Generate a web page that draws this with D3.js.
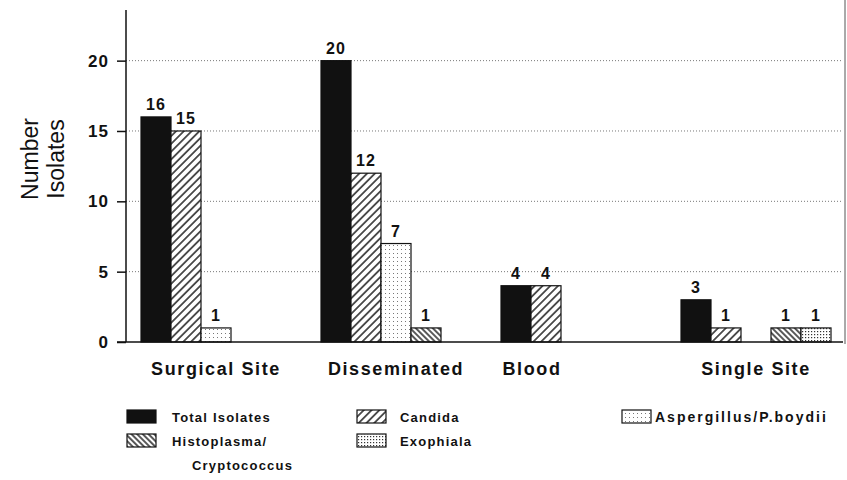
<!DOCTYPE html>
<html>
<head>
<meta charset="utf-8">
<script src="https://cdn.jsdelivr.net/npm/d3@7"></script>
<style>
  body { margin: 0; background: #fff; }
  svg { font-family: "Liberation Sans", Arial, Helvetica, sans-serif; }
</style>
</head>
<body>
<svg id="chart" width="847" height="480"></svg>
<script>
/* data */
var categories = ["Surgical Site", "Disseminated", "Blood", "Single Site"];
var seriesNames = ["Total Isolates", "Candida", "Aspergillus/P.boydii", "Histoplasma/Cryptococcus", "Exophiala"];
var totalIsolates = [16, 20, 4, 3];
var candida = [15, 12, 4, 1];
var aspergillus = [1, 7, 0, 0];
var histoplasma = [0, 1, 0, 1];
var exophiala = [0, 0, 0, 1];
var yTicks = [0, 5, 10, 15, 20];
var yLegend = ["Number", "Isolates"];

var seriesValues = [totalIsolates, candida, aspergillus, histoplasma, exophiala];

/* settings */
var width = 847,
    height = 480,
    axisX = 126,
    baseY = 342,
    topY = 10,
    yMax = 23.6,
    rightX = 843;

var svg = d3.select("#chart");

/* patterns */
var defs = svg.append("defs");

function hatch(id, size, angle) {
  var p = defs.append("pattern")
      .attr("id", id)
      .attr("patternUnits", "userSpaceOnUse")
      .attr("width", size)
      .attr("height", size)
      .attr("patternTransform", "rotate(" + angle + ")");
  p.append("rect").attr("width", size).attr("height", size).attr("fill", "#fff");
  p.append("line")
      .attr("x1", size / 2).attr("y1", 0)
      .attr("x2", size / 2).attr("y2", size)
      .attr("stroke", "#111")
      .attr("stroke-width", 1.4);
}
function dots(id, size, r, col) {
  var p = defs.append("pattern")
      .attr("id", id)
      .attr("patternUnits", "userSpaceOnUse")
      .attr("width", size)
      .attr("height", size);
  p.append("rect").attr("width", size).attr("height", size).attr("fill", "#fff");
  p.append("rect").attr("x", 1).attr("y", 1).attr("width", r).attr("height", r).attr("fill", col);
}
hatch("p-candida", 5.5, 45);
hatch("p-histo", 4, -45);
dots("p-asper", 4, 1, "#777");
dots("p-exo", 3, 1.2, "#333");

var fills = ["#111", "url(#p-candida)", "url(#p-asper)", "url(#p-histo)", "url(#p-exo)"];

/* scales */
var yScale = d3.scaleLinear().domain([0, yMax]).range([baseY, topY]);

var xScale = d3.scaleBand()
    .domain(categories)
    .range([141, 831])
    .paddingInner(1 / 6)
    .paddingOuter(0);

var xInner = d3.scaleBand()
    .domain(d3.range(seriesNames.length))
    .range([0, xScale.bandwidth()]);

/* grid lines */
svg.append("g")
  .selectAll("line")
  .data(yTicks.filter(function(d) { return d > 0; }))
  .join("line")
    .attr("x1", axisX)
    .attr("x2", rightX)
    .attr("y1", function(d) { return yScale(d); })
    .attr("y2", function(d) { return yScale(d); })
    .attr("stroke", "#777")
    .attr("stroke-width", 1)
    .attr("stroke-dasharray", "1,2");

/* y axis */
var yAxis = d3.axisLeft(yScale)
    .tickValues(yTicks)
    .tickSize(9)
    .tickPadding(8);

var yAxisG = svg.append("g")
    .attr("class", "y-axis")
    .attr("transform", "translate(" + axisX + ",0)")
    .call(yAxis);

yAxisG.select(".domain").remove();
yAxisG.selectAll(".tick line").attr("stroke", "#111").attr("stroke-width", 1.5);
yAxisG.selectAll(".tick text")
    .attr("fill", "#111")
    .style("font-size", "17px")
    .style("font-weight", "bold")
    .style("letter-spacing", "1px");

svg.append("line")
    .attr("x1", axisX).attr("x2", axisX)
    .attr("y1", topY).attr("y2", baseY)
    .attr("stroke", "#111").attr("stroke-width", 1.5);

/* bars */
var barData = [];
categories.forEach(function(c, ci) {
  seriesValues.forEach(function(vals, si) {
    if (vals[ci] > 0) barData.push({cat: c, s: si, v: vals[ci]});
  });
});

var bars = svg.append("g").attr("id", "bars");

bars.selectAll("rect")
  .data(barData)
  .join("rect")
    .attr("x", function(d) { return xScale(d.cat) + xInner(d.s); })
    .attr("y", function(d) { return yScale(d.v); })
    .attr("width", xInner.bandwidth())
    .attr("height", function(d) { return baseY - yScale(d.v); })
    .attr("fill", function(d) { return fills[d.s]; })
    .attr("stroke", "#111")
    .attr("stroke-width", 1.2);

bars.selectAll("text")
  .data(barData)
  .join("text")
    .attr("x", function(d) { return xScale(d.cat) + xInner(d.s) + xInner.bandwidth() / 2; })
    .attr("y", function(d) { return yScale(d.v) - 7; })
    .attr("text-anchor", "middle")
    .attr("fill", "#111")
    .style("font-size", "16px")
    .style("font-weight", "bold")
    .style("letter-spacing", "1px")
    .text(function(d) { return d.v; });

/* baseline */
svg.append("line")
    .attr("x1", axisX - 9).attr("x2", rightX)
    .attr("y1", baseY).attr("y2", baseY)
    .attr("stroke", "#111").attr("stroke-width", 1.5);

/* right edge line of the scan */
svg.append("line")
    .attr("x1", 845).attr("x2", 845)
    .attr("y1", 0).attr("y2", baseY + 2)
    .attr("stroke", "#555").attr("stroke-width", 1);

/* category labels, Blood sits under its two bars */
var labelShift = {"Blood": -44};
svg.append("g")
  .selectAll("text")
  .data(categories)
  .join("text")
    .attr("x", function(d) { return xScale(d) + xScale.bandwidth() / 2 + (labelShift[d] || 0); })
    .attr("y", 375)
    .attr("text-anchor", "middle")
    .attr("fill", "#111")
    .style("font-size", "18px")
    .style("font-weight", "bold")
    .style("letter-spacing", "1.6px")
    .text(function(d) { return d; });

/* y legend */
svg.append("g")
  .selectAll("text")
  .data(yLegend)
  .join("text")
    .attr("transform", function(d, i) { return "translate(" + (38 + i * 26) + ",159) rotate(-90)"; })
    .attr("text-anchor", "middle")
    .attr("fill", "#111")
    .style("font-size", "23px")
    .text(function(d) { return d; });

/* legend */
var legendPos = [
  {bx: 127, tx: 172, y: 410, fs: 13, ls: 1.2},
  {bx: 357, tx: 400, y: 410, fs: 13, ls: 1.2},
  {bx: 622, tx: 655, y: 410, fs: 14, ls: 2},
  {bx: 127, tx: 172, y: 434, fs: 13, ls: 1.2},
  {bx: 357, tx: 400, y: 434, fs: 13, ls: 1.2}
];

var legend = svg.append("g").attr("id", "legend");
var items = legend.selectAll("g")
  .data(seriesNames)
  .join("g");

items.append("rect")
    .attr("x", function(d, i) { return legendPos[i].bx; })
    .attr("y", function(d, i) { return legendPos[i].y; })
    .attr("width", 29)
    .attr("height", 13)
    .attr("fill", function(d, i) { return fills[i]; })
    .attr("stroke", "#111")
    .attr("stroke-width", 1.2);

items.append("text")
    .attr("x", function(d, i) { return legendPos[i].tx; })
    .attr("y", function(d, i) { return legendPos[i].y + 12; })
    .attr("fill", "#111")
    .style("font-size", function(d, i) { return legendPos[i].fs + "px"; })
    .style("font-weight", "bold")
    .style("letter-spacing", function(d, i) { return legendPos[i].ls + "px"; })
    .each(function(d, i) {
      var parts = d.split("/");
      var t = d3.select(this);
      if (i === 3) {
        t.append("tspan").text(parts[0] + "/");
        t.append("tspan").attr("x", legendPos[i].tx + 20).attr("dy", 24).text(parts[1]);
      } else {
        t.text(d);
      }
    });
</script>
</body>
</html>
